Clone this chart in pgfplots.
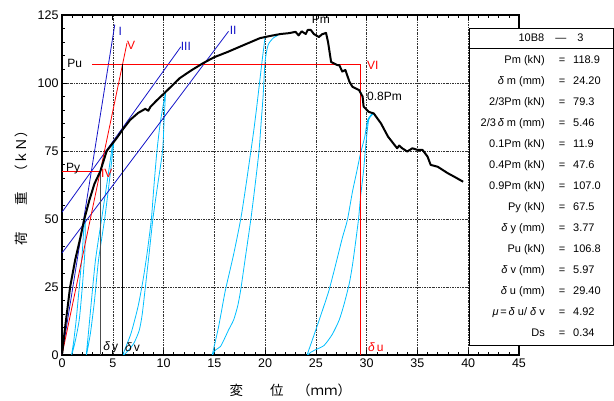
\documentclass[border=0pt]{standalone}
\usepackage{pgfplots}
\pgfplotsset{compat=1.18}
\usepackage{fontspec}
\setmainfont{Liberation Sans}
\newfontfamily\cjk{Noto Sans CJK JP}
\definecolor{lblue}{RGB}{20,20,200}
\definecolor{lcyan}{RGB}{0,190,255}
\newcommand{\trow}[3]{%
  \node[anchor=base east,inner sep=0pt] at (545,#1) {#2};
  \node[anchor=base,inner sep=0pt] at (562,#1) {=};
  \node[anchor=base west,inner sep=0pt] at (573,#1) {#3};}
\begin{document}
\begin{tikzpicture}[x=1pt,y=1pt]
\path[use as bounding box] (0,0) rectangle (614,401);
\begin{axis}[
  scale only axis, width=457pt, height=340pt,
  at={(62pt,46pt)}, anchor=south west,
  xmin=0,xmax=45,ymin=0,ymax=125,
  xtick={0,5,...,45}, ytick={0,25,...,125},
  minor x tick num=4, minor y tick num=4,
  tick align=inside, major tick length=5pt, minor tick length=3pt,
  tick pos=both,
  grid=major,
  major grid style={black!80, dash pattern=on 2pt off 1pt on 0.7pt off 1pt, line width=0.5pt},
  axis line style={line width=1.4pt},
  every tick/.style={black, line width=0.6pt},
  ticklabel style={font=\fontsize{12.5}{14}\selectfont},
  /pgf/number format/assume math mode=true,
  xlabel={\cjk 変　　位　（ｍｍ）},
  ylabel={\cjk 荷　　重　（ｋＮ）},
  every axis x label/.style={at={(axis description cs:0.5,0)}, anchor=center, yshift=-35pt, font=\fontsize{13.5}{15}\selectfont},
  every axis y label/.style={at={(axis description cs:0,0.5)}, anchor=center, xshift=-41pt, rotate=90, font=\fontsize{13.5}{15}\selectfont},
  clip=true,
]
% cyclic loops
\addplot[lcyan, line width=0.8pt, smooth, tension=0.4] coordinates {(2.2,50)(2.0,38)(1.7,25)(1.4,13)(1.15,5)(0.95,0)(1.3,5)(1.7,13)(2.0,25)(2.25,38)(2.3,50)};
\addplot[lcyan, line width=0.8pt, smooth, tension=0.4] coordinates {(5.0,78)(4.5,65)(3.9,50)(3.3,35)(2.9,20)(2.6,8)(2.4,0)(2.8,8)(3.2,20)(3.6,35)(4.2,50)(4.7,65)(5.1,78)};
\addplot[lcyan, line width=0.8pt, smooth, tension=0.4] coordinates {(10.2,96.7)(9.7,86)(9.35,75)(9.05,62)(8.8,50)(8.4,38)(8.0,28)(7.5,18)(6.8,8)(6.0,0)(6.6,2)(7.1,4.5)(7.6,9)(7.9,15)(8.3,28)(8.6,38)(8.95,50)(9.4,62)(9.9,75)(10.05,86)(10.2,96.7)};
\addplot[lcyan, line width=0.8pt, smooth, tension=0.4] coordinates {(20.0,117)(19.7,108)(19.2,92)(18.9,83)(18.6,75)(18.1,62)(17.6,50)(16.9,37)(16.1,24)(15.7,16)(15.4,10)(15.1,5)(14.8,0)(15.1,1.8)(15.6,3.1)(16.0,6)(16.4,9.2)(16.9,12.9)(17.3,18)(17.6,24)(18.1,37)(18.6,50)(19.0,62)(19.4,75)(19.6,85)(19.8,95)(20.0,108)(20.3,114)(20.8,116.5)(21.3,117.6)};
\addplot[lcyan, line width=0.8pt, smooth, tension=0.4] coordinates {(30.6,89)(30.1,86.4)(29.8,80)(29.4,74.2)(29.0,67)(28.6,60)(28.1,49.6)(27.6,43)(27.0,34)(26.3,23.9)(25.7,17)(25.1,10.4)(24.6,5)(24.15,0)(24.5,1)(25.0,2)(25.8,3.5)(26.6,7.5)(27.3,12.9)(27.8,19)(28.3,26.5)(28.6,33)(28.9,41.2)(29.2,50)(29.4,58.2)(29.7,68)(29.9,76.6)(30.2,86.4)(30.7,88.8)};
% construction lines
\addplot[lblue, line width=0.8pt] coordinates {(0,0)(5.2,121.5)};
\addplot[lblue, line width=0.8pt] coordinates {(0,52.5)(11.7,113.3)};
\addplot[lblue, line width=0.8pt] coordinates {(0,37.5)(16.4,119)};
\addplot[red, line width=0.8pt] coordinates {(0,0)(6.4,114.7)};
\addplot[red, line width=0.8pt] coordinates {(3.0,106.8)(29.4,106.8)};
\addplot[red, line width=0.8pt] coordinates {(29.4,0)(29.4,106.8)};
\addplot[red, line width=0.8pt] coordinates {(0,67.5)(3.77,67.5)};
\addplot[black!70, line width=0.7pt] coordinates {(3.77,0)(3.77,67.5)};
\addplot[black, line width=0.7pt] coordinates {(5.97,0)(5.97,106.8)};
% envelope
\addplot[black, line width=2pt, line join=round] coordinates {
(0,0)(0.3,10)(0.8,25)(1.3,35)(1.8,43)(2.2,50)(2.7,57)(3.2,63)(3.77,67.5)(4.4,75)(5.4,79.8)(6.0,83)(6.7,86.4)(7.5,89)(8.2,90.5)(8.5,89.8)(8.7,91.2)(9.3,93.5)(10.2,96.7)(11.6,101.8)(12.8,104.8)(13.9,107.3)(15.0,109.5)(16.3,111.4)(17.8,113.8)(19.5,116.5)(20.5,117.3)(21.5,118.0)(22.3,118.3)(23.0,118.8)(23.3,117.5)(23.6,119.0)(24.0,118.0)(24.2,119.5)(24.5,119.5)(24.8,118.0)(25.3,116.9)(25.6,117.9)(26.0,118.4)(26.2,115)(26.5,107.7)(27.1,106.6)(27.3,106.6)(27.6,104.2)(27.9,104.8)(28.3,100.5)(28.6,98.6)(29.25,97.4)(29.6,95.0)(29.7,91.3)(30.2,89.4)(30.7,88.8)(31.4,85.2)(32.1,80.3)(33.0,76.0)(33.2,77)(33.5,76.0)(34.0,74.8)(34.5,76.0)(35.0,75.4)(35.5,75.4)(36.0,72.9)(36.3,69.9)(37.0,69.2)(38.0,66.8)(38.6,65.6)(39.5,63.7)};
% labels
\begin{scope}[every node/.style={font=\fontsize{12}{14}\selectfont, inner sep=0pt}]
\node[lblue] at (axis cs:5.75,119.1) {I};
\node[red] at (axis cs:6.8,114) {V};
\node[lblue] at (axis cs:12.2,113.6) {III};
\node[lblue] at (axis cs:16.85,119.2) {II};
\node[red] at (axis cs:30.6,106.6) {VI};
\node[red] at (axis cs:4.4,66.9) {IV};
\node at (axis cs:1.25,107.3) {Pu};
\node at (axis cs:1.1,68.5) {Py};
\node at (axis cs:25.5,123.4) {Pm};
\node at (axis cs:31.75,94.9) {0.8Pm};
\node at (axis cs:4.8,2.9) {{\itshape δ}\,y};
\node at (axis cs:6.95,2.9) {{\itshape δ}\,v};
\node[red] at (axis cs:30.9,2.9) {{\itshape δ}\,u};
\end{scope}
\end{axis}
% parameter table
\draw[fill=white, line width=0.9pt] (469,56) rectangle (613,373);
\draw[line width=0.9pt] (469,352.7) -- (613,352.7);
\begin{scope}[font=\fontsize{11}{13}\selectfont]
\node[anchor=base,inner sep=0pt] at (551,359) {10B8\quad—\quad3};
\trow{337}{Pm (kN)}{118.9}
\trow{316}{{\itshape δ} m (mm)}{24.20}
\trow{295}{2/3Pm (kN)}{79.3}
\trow{274}{2/3\,{\itshape δ} m (mm)}{5.46}
\trow{253}{0.1Pm (kN)}{11.9}
\trow{232}{0.4Pm (kN)}{47.6}
\trow{211}{0.9Pm (kN)}{107.0}
\trow{190}{Py (kN)}{67.5}
\trow{169}{{\itshape δ} y (mm)}{3.77}
\trow{148}{Pu (kN)}{106.8}
\trow{127}{{\itshape δ} v (mm)}{5.97}
\trow{106}{{\itshape δ} u (mm)}{29.40}
\trow{85}{{\itshape μ}\,=\,{\itshape δ} u/ {\itshape δ} v}{4.92}
\trow{64}{Ds}{0.34}
\end{scope}
\end{tikzpicture}
\end{document}
